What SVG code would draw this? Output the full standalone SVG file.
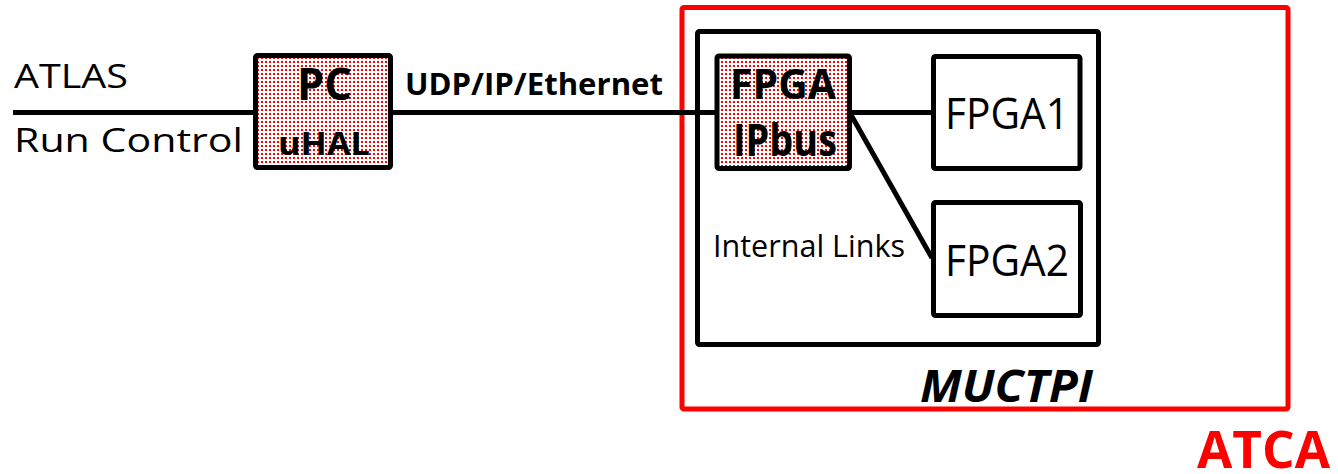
<svg xmlns="http://www.w3.org/2000/svg" width="1338" height="474" viewBox="0 0 1338 474">
<style>
.box{fill:#fff;stroke:#000;stroke-width:5}
.dot{fill:url(#dots);stroke:#000;stroke-width:5}
.ln{stroke:#000;stroke-width:5;fill:none}
.t{font-family:"Open Sans","Liberation Sans",sans-serif;fill:#000}
.b{font-weight:bold}
</style>
<defs>
<pattern id="dots" x="0" y="0" width="4" height="4" patternUnits="userSpaceOnUse">
<rect width="4" height="4" fill="#fff"/>
<rect x="1" y="1" width="2" height="2" fill="#f00"/>
</pattern>
</defs>
<rect width="1338" height="474" fill="#fff"/>
<g id="atca">
<rect x="682" y="7.5" width="606" height="401.5" rx="2" fill="none" stroke="#f00" stroke-width="5"/>
<text class="t b" x="1197" y="468" font-size="52" style="fill:#f00" textLength="133" lengthAdjust="spacingAndGlyphs">ATCA</text>
</g>
<g id="muctpi">
<rect class="box" x="697.5" y="31.5" width="401" height="313" rx="2"/>
<text class="t b" x="920" y="402" font-size="45" font-style="italic" textLength="173" lengthAdjust="spacingAndGlyphs">MUCTPI</text>
</g>
<g id="connectors">
<line class="ln" x1="13" y1="112.5" x2="256" y2="112.5"/>
<line class="ln" x1="390" y1="112.5" x2="717" y2="112.5"/>
<line class="ln" x1="849" y1="112.5" x2="933" y2="112.5"/>
<line class="ln" x1="850" y1="113" x2="932" y2="258"/>
</g>
<g id="labels">
<text class="t" x="14" y="88" font-size="33" textLength="114" lengthAdjust="spacingAndGlyphs">ATLAS</text>
<text class="t" x="14" y="152" font-size="33" textLength="229" lengthAdjust="spacingAndGlyphs">Run Control</text>
<text class="t b" x="405" y="95" font-size="31" textLength="258" lengthAdjust="spacingAndGlyphs">UDP/IP/Ethernet</text>
<text class="t" x="713" y="257" font-size="31" textLength="192" lengthAdjust="spacingAndGlyphs">Internal Links</text>
</g>
<g id="pc">
<rect class="dot" x="255.5" y="55.5" width="135" height="112" rx="2"/>
<text class="t b" x="297" y="100" font-size="45" textLength="55" lengthAdjust="spacingAndGlyphs">PC</text>
<text class="t b" x="278" y="155" font-size="32" textLength="92" lengthAdjust="spacingAndGlyphs">uHAL</text>
</g>
<g id="fpga-ipbus">
<rect class="dot" x="717" y="56" width="132.5" height="112.5" rx="2"/>
<text class="t b" x="730" y="99" font-size="41" textLength="106" lengthAdjust="spacingAndGlyphs">FPGA</text>
<text class="t b" x="733" y="156" font-size="44" textLength="104" lengthAdjust="spacingAndGlyphs">IPbus</text>
</g>
<g id="fpga1">
<rect class="box" x="933.5" y="56.5" width="146.5" height="112" rx="2"/>
<text class="t" x="945" y="129" font-size="43" textLength="124" lengthAdjust="spacingAndGlyphs">FPGA1</text>
</g>
<g id="fpga2">
<rect class="box" x="933.5" y="202.5" width="147" height="113" rx="2"/>
<text class="t" x="945" y="276" font-size="43" textLength="124" lengthAdjust="spacingAndGlyphs">FPGA2</text>
</g>
</svg>
